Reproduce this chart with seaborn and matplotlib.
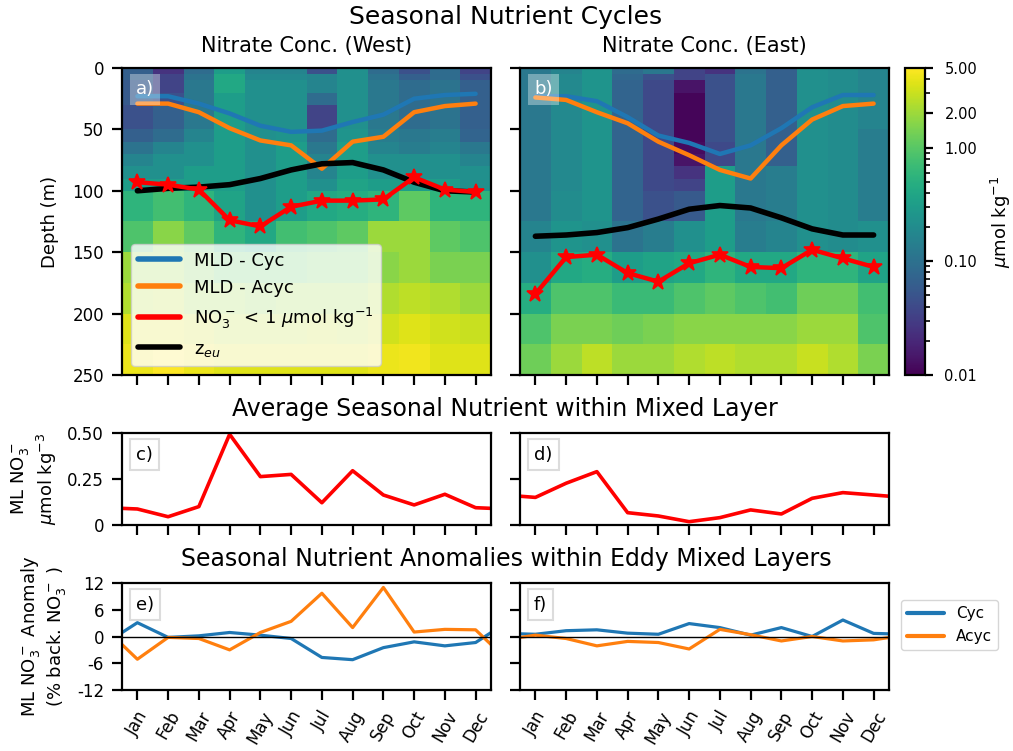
import numpy as np
import matplotlib
matplotlib.use("Agg")
import matplotlib.pyplot as plt
import seaborn as sns
from matplotlib.colors import LogNorm
from matplotlib.lines import Line2D
from matplotlib.ticker import LogLocator, FuncFormatter

# ---------------- data ----------------
months = ["Jan", "Feb", "Mar", "Apr", "May", "Jun",
          "Jul", "Aug", "Sep", "Oct", "Nov", "Dec"]
month_idx = list(range(12))

depth_edges = [0, 5, 10, 20, 30, 40, 50, 60, 70, 80, 90, 100,
               125, 150, 175, 200, 225, 250]

# nitrate profiles (umol/kg), one list per month, surface -> 250 m
no3_west = [
    [0.065, 0.065, 0.057, 0.057, 0.047, 0.047, 0.065, 0.106, 0.164, 0.22, 0.31, 0.57, 0.88, 1.96, 2.37, 3.66, 4.2],
    [0.025, 0.035, 0.035, 0.047, 0.065, 0.065, 0.088, 0.164, 0.22, 0.22, 0.31, 0.77, 1.64, 1.96, 2.68, 3.66, 5.0],
    [0.088, 0.106, 0.12, 0.12, 0.12, 0.12, 0.164, 0.22, 0.22, 0.31, 0.31, 0.57, 1.06, 1.44, 1.96, 3.2, 4.2],
    [0.31, 0.42, 0.42, 0.31, 0.31, 0.31, 0.31, 0.31, 0.31, 0.31, 0.31, 0.37, 0.57, 1.06, 1.96, 2.68, 3.66],
    [0.164, 0.186, 0.22, 0.22, 0.22, 0.22, 0.22, 0.22, 0.22, 0.22, 0.22, 0.22, 0.42, 1.06, 1.64, 2.68, 3.66],
    [0.164, 0.186, 0.22, 0.22, 0.22, 0.22, 0.25, 0.31, 0.31, 0.31, 0.31, 0.31, 0.77, 1.06, 1.96, 2.68, 3.66],
    [0.047, 0.164, 0.164, 0.088, 0.035, 0.035, 0.088, 0.12, 0.164, 0.164, 0.22, 0.42, 0.88, 1.27, 1.96, 3.0, 3.66],
    [0.22, 0.22, 0.22, 0.22, 0.22, 0.22, 0.25, 0.31, 0.31, 0.31, 0.37, 0.47, 1.06, 1.27, 1.96, 2.68, 3.66],
    [0.088, 0.106, 0.12, 0.12, 0.12, 0.12, 0.136, 0.164, 0.22, 0.22, 0.31, 0.57, 1.96, 1.64, 2.37, 3.2, 4.2],
    [0.047, 0.065, 0.088, 0.088, 0.088, 0.088, 0.12, 0.136, 0.22, 0.22, 0.31, 1.06, 1.96, 1.96, 2.68, 3.66, 4.4],
    [0.088, 0.088, 0.106, 0.106, 0.106, 0.106, 0.136, 0.164, 0.22, 0.22, 0.31, 0.57, 1.06, 1.44, 2.37, 3.2, 3.66],
    [0.035, 0.047, 0.065, 0.065, 0.065, 0.065, 0.073, 0.12, 0.164, 0.22, 0.22, 0.57, 0.88, 1.44, 1.96, 3.0, 3.66],
]
no3_east = [
    [0.12, 0.12, 0.12, 0.12, 0.12, 0.12, 0.12, 0.12, 0.12, 0.12, 0.12, 0.12, 0.164, 0.22, 0.47, 0.88, 1.27],
    [0.164, 0.186, 0.186, 0.186, 0.186, 0.186, 0.186, 0.186, 0.186, 0.186, 0.186, 0.2, 0.25, 0.42, 0.88, 1.44, 1.96],
    [0.25, 0.25, 0.25, 0.25, 0.25, 0.25, 0.25, 0.25, 0.25, 0.25, 0.25, 0.25, 0.22, 0.47, 0.88, 1.44, 2.68],
    [0.088, 0.078, 0.073, 0.073, 0.073, 0.073, 0.073, 0.073, 0.073, 0.073, 0.073, 0.073, 0.106, 0.31, 0.68, 1.27, 1.96],
    [0.12, 0.047, 0.039, 0.039, 0.039, 0.039, 0.039, 0.039, 0.039, 0.039, 0.039, 0.047, 0.136, 0.37, 0.68, 1.44, 1.96],
    [0.035, 0.035, 0.014, 0.011, 0.011, 0.011, 0.011, 0.012, 0.014, 0.025, 0.035, 0.057, 0.22, 0.42, 0.88, 1.64, 2.37],
    [0.025, 0.047, 0.047, 0.047, 0.047, 0.047, 0.047, 0.039, 0.039, 0.31, 0.31, 0.31, 0.31, 0.57, 1.06, 1.64, 2.68],
    [0.106, 0.12, 0.12, 0.12, 0.12, 0.12, 0.12, 0.12, 0.12, 0.12, 0.12, 0.12, 0.136, 0.42, 0.88, 1.64, 2.37],
    [0.065, 0.065, 0.065, 0.065, 0.065, 0.065, 0.065, 0.065, 0.065, 0.136, 0.136, 0.136, 0.164, 0.42, 0.77, 1.64, 2.37],
    [0.22, 0.22, 0.22, 0.22, 0.22, 0.22, 0.22, 0.22, 0.22, 0.22, 0.22, 0.22, 0.22, 0.57, 1.27, 1.96, 3.0],
    [0.2, 0.2, 0.2, 0.2, 0.2, 0.2, 0.2, 0.2, 0.2, 0.2, 0.2, 0.2, 0.2, 0.57, 1.27, 1.96, 2.37],
    [0.164, 0.164, 0.164, 0.164, 0.164, 0.164, 0.136, 0.136, 0.136, 0.136, 0.136, 0.136, 0.22, 0.37, 0.77, 0.88, 1.44],
]

# depth lines (m)
mld_cyc_west = [23, 23, 29, 37, 47, 52, 51, 44, 38, 25, 22, 21]
mld_acyc_west = [29, 29, 36, 49, 59, 63, 82, 60, 56, 36, 31, 29]
no3_1_west = [93, 95, 99, 124, 129, 113, 108, 108, 107, 89, 99, 101]
zeu_west = [100, 98, 97, 95, 90, 83, 78, 77, 83, 93, 100, 101]

mld_cyc_east = [23, 23, 27, 40, 55, 61, 70, 63, 49, 32, 22, 22]
mld_acyc_east = [24, 26, 36, 45, 60, 71, 83, 90, 63, 42, 31, 29]
no3_1_east = [184, 154, 152, 167, 174, 159, 152, 162, 163, 148, 155, 162]
zeu_east = [137, 136, 134, 130, 123, 115, 112, 114, 122, 131, 136, 136]

# mixed-layer nitrate (umol/kg)
ml_no3_west = [0.087, 0.045, 0.10, 0.493, 0.263, 0.275, 0.121, 0.295, 0.163, 0.109, 0.167, 0.094]
ml_no3_east = [0.15, 0.227, 0.29, 0.067, 0.049, 0.018, 0.04, 0.082, 0.06, 0.145, 0.176, 0.163]

# anomalies (% of background)
anom_cyc_west = [3.1, -0.2, 0.15, 0.9, 0.3, -0.45, -4.7, -5.2, -2.5, -1.2, -2.1, -1.35]
anom_acyc_west = [-5.1, -0.2, -0.45, -3.0, 0.9, 3.4, 9.7, 2.0, 11.0, 1.0, 1.6, 1.5]
anom_cyc_east = [0.5, 1.3, 1.5, 0.75, 0.5, 2.9, 2.0, 0.3, 2.0, 0.0, 3.7, 0.7]
anom_acyc_east = [0.3, -0.45, -2.1, -1.1, -1.35, -2.8, 1.6, 0.4, -1.0, 0.0, -1.0, -0.75]

# ---------------- style ----------------
sns.set_theme(style="ticks")
plt.rcParams.update({
    "font.family": ["DejaVu Sans"],
    "axes.edgecolor": "black",
    "axes.linewidth": 1.6,
    "xtick.color": "black",
    "ytick.color": "black",
    "xtick.major.width": 1.6,
    "ytick.major.width": 1.6,
    "xtick.major.size": 7,
    "ytick.major.size": 7,
    "xtick.major.pad": 6,
    "ytick.major.pad": 6,
    "xtick.labelsize": 12,
    "ytick.labelsize": 12,
    "text.color": "black",
    "axes.labelcolor": "black",
    "axes.unicode_minus": False,
})

C_BLUE = "#1f77b4"
C_ORANGE = "#ff7f0e"

fig = plt.figure(figsize=(10.13, 7.51), dpi=100)
W, H = 1013.0, 751.0


def px_axes(l, t, r, b):
    return fig.add_axes([l / W, 1 - b / H, (r - l) / W, (b - t) / H])


ax_a = px_axes(122, 68, 491, 375)
ax_b = px_axes(520, 68, 889, 375)
cax = px_axes(905, 68, 925, 375)
ax_c = px_axes(122, 433, 491, 525)
ax_d = px_axes(520, 433, 889, 525)
ax_e = px_axes(122, 583, 491, 690)
ax_f = px_axes(520, 583, 889, 690)

norm = LogNorm(vmin=0.01, vmax=5)
x_edges = np.arange(13) - 0.5


def panel_label(ax, txt, white=False):
    if white:
        bb = dict(boxstyle="square,pad=0.35", facecolor="white", alpha=0.35, edgecolor="none")
        col = "white"
    else:
        bb = dict(boxstyle="square,pad=0.35", facecolor="white", edgecolor="#dcdcdc", linewidth=1.5)
        col = "black"
    ax.annotate(txt, xy=(0, 1), xycoords="axes fraction", xytext=(10, -9),
                textcoords="offset points", ha="left", va="top", fontsize=13,
                color=col, bbox=bb, zorder=10)


def heat_panel(ax, prof, cyc, acyc, no3, zeu, title, label):
    Z = np.array(prof).T
    mesh = ax.pcolormesh(x_edges, depth_edges, Z, cmap="viridis", norm=norm, shading="flat")
    sns.lineplot(x=month_idx, y=cyc, ax=ax, color=C_BLUE, lw=3.2, legend=False)
    sns.lineplot(x=month_idx, y=acyc, ax=ax, color=C_ORANGE, lw=3.2, legend=False)
    sns.lineplot(x=month_idx, y=zeu, ax=ax, color="black", lw=4, legend=False)
    sns.lineplot(x=month_idx, y=no3, ax=ax, color="red", lw=3.2, marker="*",
                 markersize=12, markeredgecolor="red", markeredgewidth=1.2, legend=False)
    ax.set_xlim(-0.5, 11.5)
    ax.set_ylim(250, 0)
    ax.set_yticks([0, 50, 100, 150, 200, 250])
    ax.set_xticks(month_idx)
    ax.set_xticklabels([])
    ax.set_xlabel("")
    ax.set_ylabel("")
    ax.set_title(title, fontsize=15, pad=11.5)
    panel_label(ax, label, white=True)
    return mesh


mesh = heat_panel(ax_a, no3_west, mld_cyc_west, mld_acyc_west, no3_1_west, zeu_west,
                  "Nitrate Conc. (West)", "a)")
heat_panel(ax_b, no3_east, mld_cyc_east, mld_acyc_east, no3_1_east, zeu_east,
           "Nitrate Conc. (East)", "b)")
ax_b.set_yticklabels([])
ax_a.set_ylabel("Depth (m)", fontsize=13)
ax_a.yaxis.set_label_coords(-0.172, 0.5)

handles = [Line2D([], [], color=C_BLUE, lw=4),
           Line2D([], [], color=C_ORANGE, lw=4),
           Line2D([], [], color="red", lw=4),
           Line2D([], [], color="black", lw=4)]
labels = ["MLD - Cyc", "MLD - Acyc", r"NO$_3^-$ < 1 $\mu$mol kg$^{-1}$", r"z$_{eu}$"]
leg = ax_a.legend(handles, labels, loc="lower left", fontsize=13, handlelength=2.3,
                  frameon=True, framealpha=0.8, fancybox=True, edgecolor="0.8")
leg.get_frame().set_facecolor("white")

# colorbar
cb = fig.colorbar(mesh, cax=cax)
cb.set_ticks([0.01, 0.1, 1, 2, 5])
cb.ax.yaxis.set_major_formatter(FuncFormatter(lambda v, p: f"{v:.2f}"))
cb.ax.yaxis.set_minor_locator(LogLocator(base=10, subs=np.arange(2, 10)))
cb.ax.tick_params(which="major", labelsize=10.5, length=6, width=1.6, pad=8)
cb.ax.tick_params(which="minor", length=3.5, width=1.2)
cb.outline.set_linewidth(1.6)
cb.set_label(r"$\mu$mol kg$^{-1}$", fontsize=13, labelpad=8)


def wrap(vals):
    return [-1] + month_idx + [12], [vals[-1]] + list(vals) + [vals[0]]


# c, d
for ax, vals, lab in [(ax_c, ml_no3_west, "c)"), (ax_d, ml_no3_east, "d)")]:
    xx, yy = wrap(vals)
    sns.lineplot(x=xx, y=yy, ax=ax, color="red", lw=2.6, legend=False)
    ax.set_xlim(-0.5, 11.5)
    ax.set_ylim(0, 0.5)
    ax.set_yticks([0, 0.25, 0.5])
    ax.set_yticklabels(["0", "0.25", "0.50"])
    ax.set_xticks(month_idx)
    ax.set_xticklabels([])
    ax.set_xlabel("")
    ax.set_ylabel("")
    panel_label(ax, lab)
ax_d.set_yticklabels([])
ax_c.set_ylabel("ML NO$_3^-$\n$\\mu$mol kg$^{-3}$", fontsize=13)
ax_c.yaxis.set_label_coords(-0.172, 0.5)

# e, f
for ax, cyc, acyc, lab in [(ax_e, anom_cyc_west, anom_acyc_west, "e)"),
                           (ax_f, anom_cyc_east, anom_acyc_east, "f)")]:
    xx, yc = wrap(cyc)
    _, ya = wrap(acyc)
    sns.lineplot(x=xx, y=yc, ax=ax, color=C_BLUE, lw=2.3, label="Cyc")
    sns.lineplot(x=xx, y=ya, ax=ax, color=C_ORANGE, lw=2.3, label="Acyc")
    ax.axhline(0, color="black", lw=1.0, zorder=3)
    ax.set_xlim(-0.5, 11.5)
    ax.set_ylim(-12, 12)
    ax.set_yticks([-12, -6, 0, 6, 12])
    ax.set_xticks(month_idx)
    ax.set_xticklabels(months, rotation=60)
    ax.set_xlabel("")
    ax.set_ylabel("")
    panel_label(ax, lab)
    ax.get_legend().remove()
ax_f.set_yticklabels([])
ax_e.set_ylabel("ML NO$_3^-$ Anomaly\n(% back. NO$_3^-$ )", fontsize=13)
ax_e.yaxis.set_label_coords(-0.146, 0.5)

h, l = ax_f.get_legend_handles_labels()
lf = ax_f.legend(h, l, loc="upper left", bbox_to_anchor=(1.033, 0.84), borderaxespad=0,
                 fontsize=11, handlelength=2.4, frameon=True, framealpha=0.8,
                 fancybox=True, edgecolor="0.8")
for ln in lf.get_lines():
    ln.set_linewidth(3)

# titles
fig.text(0.499, 1 - 24 / H, "Seasonal Nutrient Cycles", ha="center", va="baseline", fontsize=18)
fig.text(0.4985, 1 - 416 / H, "Average Seasonal Nutrient within Mixed Layer",
         ha="center", va="baseline", fontsize=17)
fig.text(0.4995, 1 - 566 / H, "Seasonal Nutrient Anomalies within Eddy Mixed Layers",
         ha="center", va="baseline", fontsize=17)

fig.savefig("out.png", dpi=100)
